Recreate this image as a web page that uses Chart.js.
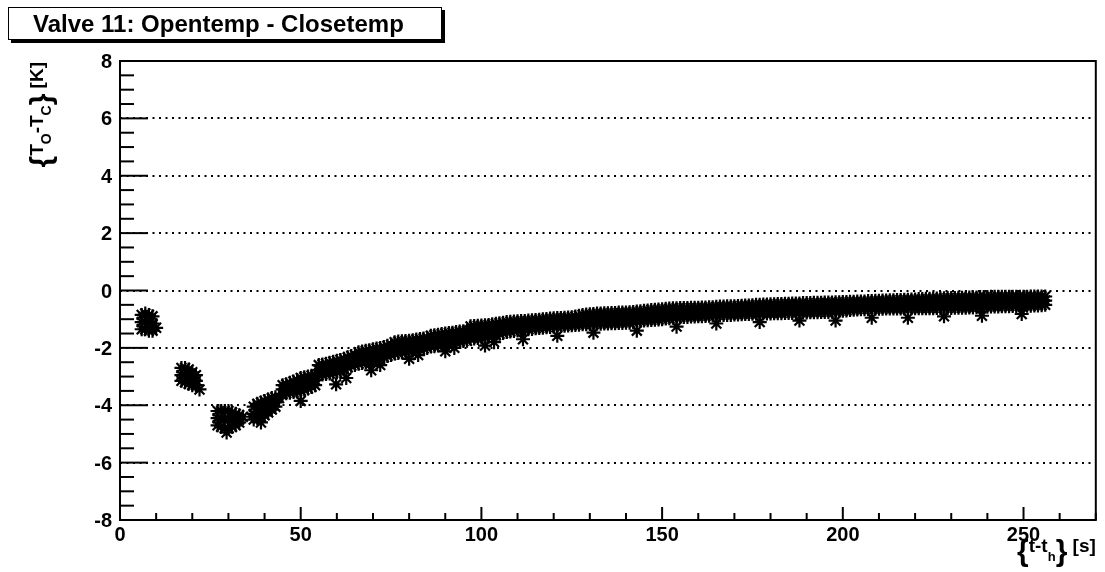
<!DOCTYPE html>
<html>
<head>
<meta charset="utf-8">
<script src="https://cdn.jsdelivr.net/npm/chart.js@4.4.1/dist/chart.umd.min.js"></script>
<style>
  html, body { margin: 0; padding: 0; background: #fff; }
  #wrap { width: 1105px; height: 572px; }
</style>
</head>
<body>
<div id="wrap"><canvas id="valveChart" width="1105" height="572"></canvas></div>
<script>
// time since heater switch [s]
const timeS = [
  6, 7, 8, 9,
  17, 18, 19, 20, 21,
  27, 28, 29, 30, 31, 32, 33,
  37, 38, 39, 40, 41, 42, 43,
  45, 46, 47, 48, 49, 50, 51, 52, 53, 54,
  55, 56, 57, 58, 59, 60, 61, 62, 63, 64,
  65, 66, 67, 68, 69, 70, 71, 72, 73, 74,
  75, 76, 77, 78, 79, 80, 81, 82, 83, 84,
  85, 86, 87, 88, 89, 90, 91, 92, 93, 94,
  95, 96, 97, 98, 99, 100, 101, 102, 103, 104,
  105, 106, 107, 108, 109, 110, 111, 112, 113, 114,
  115, 116, 117, 118, 119, 120, 121, 122, 123, 124,
  125, 126, 127, 128, 129, 130, 131, 132, 133, 134,
  135, 136, 137, 138, 139, 140, 141, 142, 143, 144,
  145, 146, 147, 148, 149, 150, 151, 152, 153, 154,
  155, 156, 157, 158, 159, 160, 161, 162, 163, 164,
  165, 166, 167, 168, 169, 170, 171, 172, 173, 174,
  175, 176, 177, 178, 179, 180, 181, 182, 183, 184,
  185, 186, 187, 188, 189, 190, 191, 192, 193, 194,
  195, 196, 197, 198, 199, 200, 201, 202, 203, 204,
  205, 206, 207, 208, 209, 210, 211, 212, 213, 214,
  215, 216, 217, 218, 219, 220, 221, 222, 223, 224,
  225, 226, 227, 228, 229, 230, 231, 232, 233, 234,
  235, 236, 237, 238, 239, 240, 241, 242, 243, 244,
  245, 246, 247, 248, 249, 250, 251, 252, 253, 254,
  255, 256
];

// upper edge of the band of readings, T_O - T_C [K]
const diffTop = [
  -0.85, -0.80, -0.85, -0.90,
  -2.70, -2.70, -2.75, -2.85, -2.95,
  -4.20, -4.20, -4.20, -4.20, -4.25, -4.30, -4.35,
  -4.05, -3.95, -3.90, -3.85, -3.80, -3.75, -3.72,
  -3.30, -3.27, -3.22, -3.17, -3.12, -3.05, -3.02, -3.00, -2.97, -2.95,
  -2.60, -2.58, -2.55, -2.52, -2.48, -2.45, -2.42, -2.38, -2.33, -2.28,
  -2.25, -2.15, -2.13, -2.10, -2.08, -2.05, -2.02, -2.00, -1.97, -1.93,
  -1.90, -1.80, -1.78, -1.77, -1.76, -1.75, -1.73, -1.71, -1.69, -1.67,
  -1.65, -1.58, -1.56, -1.54, -1.52, -1.50, -1.48, -1.47, -1.45, -1.43,
  -1.42, -1.40, -1.25, -1.24, -1.23, -1.22, -1.21, -1.20, -1.18, -1.16,
  -1.14, -1.12, -1.10, -1.09, -1.08, -1.07, -1.06, -1.06, -1.05, -1.04,
  -1.03, -1.02, -1.00, -0.99, -0.98, -0.97, -0.96, -0.96, -0.95, -0.94,
  -0.93, -0.91, -0.88, -0.85, -0.84, -0.83, -0.82, -0.80, -0.80, -0.79,
  -0.79, -0.78, -0.78, -0.77, -0.77, -0.77, -0.76, -0.75, -0.73, -0.72,
  -0.71, -0.70, -0.68, -0.67, -0.66, -0.65, -0.64, -0.63, -0.62, -0.62,
  -0.61, -0.61, -0.61, -0.60, -0.60, -0.60, -0.59, -0.59, -0.58, -0.58,
  -0.57, -0.56, -0.56, -0.55, -0.55, -0.55, -0.54, -0.53, -0.52, -0.52,
  -0.51, -0.50, -0.50, -0.49, -0.49, -0.48, -0.48, -0.47, -0.47, -0.46,
  -0.46, -0.45, -0.45, -0.45, -0.44, -0.44, -0.44, -0.43, -0.43, -0.43,
  -0.42, -0.42, -0.42, -0.41, -0.41, -0.40, -0.40, -0.39, -0.39, -0.38,
  -0.38, -0.38, -0.37, -0.37, -0.36, -0.36, -0.35, -0.35, -0.34, -0.34,
  -0.33, -0.33, -0.32, -0.32, -0.31, -0.31, -0.30, -0.30, -0.29, -0.29,
  -0.28, -0.28, -0.27, -0.27, -0.26, -0.26, -0.26, -0.25, -0.25, -0.25,
  -0.24, -0.24, -0.24, -0.23, -0.23, -0.23, -0.22, -0.22, -0.22, -0.22,
  -0.22, -0.22, -0.22, -0.22, -0.22, -0.22, -0.22, -0.21, -0.21, -0.21,
  -0.21, -0.21
];

// middle of the band
const diffMid = [
  -1.10, -1.10, -1.10, -1.15,
  -2.95, -2.95, -3.00, -3.05, -3.15,
  -4.45, -4.50, -4.50, -4.50, -4.50, -4.50, -4.50,
  -4.30, -4.25, -4.15, -4.10, -4.00, -3.95, -3.90,
  -3.45, -3.42, -3.39, -3.35, -3.32, -3.28, -3.24, -3.21, -3.17, -3.12,
  -2.78, -2.75, -2.73, -2.70, -2.67, -2.65, -2.61, -2.56, -2.50, -2.45,
  -2.42, -2.35, -2.33, -2.30, -2.28, -2.25, -2.22, -2.19, -2.15, -2.10,
  -2.07, -2.00, -1.98, -1.96, -1.95, -1.93, -1.91, -1.89, -1.86, -1.84,
  -1.82, -1.76, -1.75, -1.73, -1.71, -1.69, -1.67, -1.65, -1.62, -1.60,
  -1.59, -1.57, -1.46, -1.45, -1.44, -1.43, -1.42, -1.40, -1.38, -1.35,
  -1.32, -1.30, -1.27, -1.26, -1.24, -1.23, -1.21, -1.21, -1.20, -1.19,
  -1.17, -1.16, -1.15, -1.13, -1.12, -1.11, -1.10, -1.10, -1.09, -1.08,
  -1.07, -1.05, -1.03, -1.01, -1.01, -1.00, -0.99, -0.98, -0.98, -0.97,
  -0.97, -0.96, -0.96, -0.95, -0.95, -0.94, -0.94, -0.92, -0.90, -0.89,
  -0.88, -0.87, -0.85, -0.84, -0.83, -0.82, -0.81, -0.80, -0.78, -0.78,
  -0.77, -0.76, -0.76, -0.75, -0.75, -0.75, -0.74, -0.74, -0.73, -0.72,
  -0.71, -0.71, -0.70, -0.70, -0.70, -0.69, -0.69, -0.68, -0.67, -0.67,
  -0.66, -0.65, -0.65, -0.64, -0.64, -0.64, -0.63, -0.63, -0.63, -0.62,
  -0.62, -0.61, -0.61, -0.61, -0.60, -0.60, -0.60, -0.59, -0.59, -0.59,
  -0.58, -0.58, -0.58, -0.57, -0.56, -0.55, -0.55, -0.53, -0.53, -0.52,
  -0.51, -0.51, -0.51, -0.50, -0.50, -0.50, -0.49, -0.49, -0.48, -0.48,
  -0.48, -0.48, -0.47, -0.47, -0.46, -0.46, -0.46, -0.46, -0.45, -0.45,
  -0.45, -0.44, -0.44, -0.44, -0.43, -0.43, -0.43, -0.42, -0.42, -0.42,
  -0.41, -0.41, -0.41, -0.40, -0.40, -0.40, -0.39, -0.39, -0.39, -0.38,
  -0.38, -0.38, -0.38, -0.38, -0.38, -0.37, -0.37, -0.37, -0.36, -0.36,
  -0.36, -0.35
];

// lower edge of the band
const diffLow = [
  -1.35, -1.35, -1.40, -1.40,
  -3.15, -3.20, -3.25, -3.30, -3.30,
  -4.70, -4.75, -4.80, -4.80, -4.75, -4.70, -4.60,
  -4.50, -4.45, -4.40, -4.35, -4.25, -4.15, -4.05,
  -3.60, -3.58, -3.56, -3.54, -3.52, -3.50, -3.46, -3.42, -3.36, -3.30,
  -2.95, -2.93, -2.91, -2.89, -2.87, -2.85, -2.80, -2.74, -2.68, -2.62,
  -2.60, -2.55, -2.53, -2.50, -2.48, -2.45, -2.42, -2.38, -2.33, -2.28,
  -2.25, -2.20, -2.18, -2.16, -2.14, -2.12, -2.10, -2.07, -2.04, -2.02,
  -2.00, -1.95, -1.94, -1.92, -1.90, -1.88, -1.86, -1.83, -1.80, -1.78,
  -1.76, -1.75, -1.68, -1.67, -1.66, -1.65, -1.63, -1.61, -1.58, -1.55,
  -1.51, -1.48, -1.45, -1.43, -1.41, -1.39, -1.37, -1.36, -1.35, -1.34,
  -1.32, -1.31, -1.30, -1.28, -1.27, -1.26, -1.25, -1.24, -1.23, -1.22,
  -1.21, -1.20, -1.19, -1.18, -1.18, -1.17, -1.17, -1.16, -1.16, -1.15,
  -1.15, -1.14, -1.14, -1.13, -1.13, -1.12, -1.12, -1.10, -1.08, -1.06,
  -1.05, -1.04, -1.03, -1.02, -1.01, -1.00, -0.98, -0.97, -0.95, -0.94,
  -0.93, -0.92, -0.92, -0.91, -0.91, -0.90, -0.90, -0.89, -0.88, -0.87,
  -0.86, -0.86, -0.85, -0.85, -0.85, -0.84, -0.84, -0.83, -0.82, -0.82,
  -0.81, -0.81, -0.80, -0.80, -0.80, -0.80, -0.79, -0.79, -0.79, -0.78,
  -0.78, -0.78, -0.78, -0.77, -0.77, -0.77, -0.76, -0.76, -0.76, -0.75,
  -0.75, -0.75, -0.74, -0.73, -0.72, -0.71, -0.70, -0.68, -0.67, -0.66,
  -0.65, -0.65, -0.65, -0.64, -0.64, -0.64, -0.64, -0.63, -0.63, -0.63,
  -0.63, -0.63, -0.63, -0.62, -0.62, -0.62, -0.62, -0.62, -0.62, -0.62,
  -0.62, -0.61, -0.61, -0.61, -0.61, -0.61, -0.60, -0.60, -0.60, -0.60,
  -0.59, -0.59, -0.58, -0.58, -0.57, -0.57, -0.56, -0.56, -0.56, -0.55,
  -0.55, -0.55, -0.54, -0.54, -0.54, -0.53, -0.53, -0.53, -0.52, -0.52,
  -0.51, -0.50
];

// isolated low readings below the band
const outlierT = [10, 22, 29.5, 34, 39, 44, 50, 59.8, 62.6, 69.5, 72, 80, 82.5, 90, 92.5,
  101, 103.5, 111.5, 121, 131, 143, 154, 165, 177, 188, 198, 208, 218, 228, 238.5, 249.5];
const outlierDiff = [-1.30, -3.45, -4.95, -4.40, -4.60, -3.75, -3.85, -3.27, -3.05, -2.78, -2.60,
  -2.38, -2.25, -2.12, -2.00, -1.92, -1.80, -1.70, -1.58, -1.47, -1.40, -1.26, -1.15, -1.10,
  -1.05, -1.05, -0.95, -0.95, -0.90, -0.88, -0.82];

const gridLevels = [-6, -4, -2, 0, 2, 4, 6];

const FONT = '"Liberation Sans", Arial, Helvetica, sans-serif';

const points = [];
timeS.forEach((t, i) => {
  points.push({ x: t, y: diffTop[i] });
  points.push({ x: t, y: diffMid[i] });
  points.push({ x: t, y: diffLow[i] });
});
outlierT.forEach((t, i) => points.push({ x: t, y: outlierDiff[i] }));

// draws a line of text with sub-scripts, right aligned at x
function drawRich(ctx, parts, x, y) {
  let w = 0;
  parts.forEach(p => { ctx.font = p.font; p.w = ctx.measureText(p.text).width; w += p.w; });
  let cx = x - w;
  ctx.textAlign = 'left';
  ctx.textBaseline = 'alphabetic';
  parts.forEach(p => {
    ctx.font = p.font;
    ctx.fillText(p.text, cx, y + (p.dy || 0));
    cx += p.w;
  });
}

const rootStyle = {
  id: 'rootStyle',
  beforeDatasetsDraw(chart) {
    const { ctx, chartArea: a, scales } = chart;
    ctx.save();
    ctx.strokeStyle = '#000';
    ctx.lineWidth = 2;
    ctx.setLineDash([2, 4.5]);
    gridLevels.forEach(v => {
      const py = Math.round(scales.y.getPixelForValue(v));
      ctx.beginPath();
      ctx.moveTo(a.left, py);
      ctx.lineTo(a.right, py);
      ctx.stroke();
    });
    ctx.restore();
  },
  afterDraw(chart) {
    const { ctx, chartArea: a, scales } = chart;
    ctx.save();
    ctx.fillStyle = '#000';
    ctx.strokeStyle = '#000';

    // frame
    ctx.lineWidth = 2;
    ctx.strokeRect(a.left, a.top, a.right - a.left, a.bottom - a.top);

    // y ticks, inside the frame
    for (let v = -8; v <= 8; v += 0.5) {
      const py = scales.y.getPixelForValue(v);
      const len = v % 2 === 0 ? 28 : 14;
      ctx.beginPath();
      ctx.moveTo(a.left, py);
      ctx.lineTo(a.left + len, py);
      ctx.stroke();
    }
    // x ticks, inside the frame
    for (let v = 0; v <= 270; v += 10) {
      const px = scales.x.getPixelForValue(v);
      const len = v % 50 === 0 ? 13 : 7;
      ctx.beginPath();
      ctx.moveTo(px, a.bottom);
      ctx.lineTo(px, a.bottom - len);
      ctx.stroke();
    }

    // title box with shadow
    ctx.fillRect(11, 10, 434, 33);
    ctx.fillStyle = '#fff';
    ctx.fillRect(8, 7, 434, 33);
    ctx.lineWidth = 1;
    ctx.strokeRect(8.5, 7.5, 433, 32);
    ctx.fillStyle = '#000';
    ctx.font = `bold 24px ${FONT}`;
    ctx.textAlign = 'left';
    ctx.textBaseline = 'alphabetic';
    ctx.fillText('Valve 11: Opentemp - Closetemp', 33, 32);

    const main = `bold 19px ${FONT}`;
    const sub = `bold 14px ${FONT}`;
    const brace = `bold 30px ${FONT}`;

    // x axis title
    drawRich(ctx, [
      { text: '{', font: brace, dy: 9 },
      { text: 't-t', font: main },
      { text: 'h', font: `bold 13px ${FONT}`, dy: 9 },
      { text: '}', font: brace, dy: 9 },
      { text: ' [s]', font: main }
    ], a.right, 552);

    // y axis title, rotated
    ctx.translate(43, 62);
    ctx.rotate(-Math.PI / 2);
    drawRich(ctx, [
      { text: '{', font: brace, dy: 8 },
      { text: 'T', font: main },
      { text: 'O', font: sub, dy: 8 },
      { text: '-T', font: main },
      { text: 'C', font: sub, dy: 8 },
      { text: '}', font: brace, dy: 8 },
      { text: ' [K]', font: main }
    ], 0, 0);
    ctx.restore();
  }
};

const ctx = document.getElementById('valveChart').getContext('2d');
const valveChart = new Chart(ctx, {
  type: 'scatter',
  data: {
    datasets: [{
      label: 'Opentemp - Closetemp',
      data: points,
      pointStyle: 'star',
      pointRadius: 7,
      pointBorderWidth: 2.2,
      borderColor: '#000',
      backgroundColor: '#000',
      showLine: false
    }]
  },
  options: {
    responsive: false,
    animation: false,
    layout: { padding: { top: 61, right: 5, left: 0, bottom: 0 } },
    plugins: {
      legend: { display: false },
      tooltip: { enabled: false },
      title: { display: false }
    },
    scales: {
      x: {
        type: 'linear',
        min: 0,
        max: 270,
        afterFit: scale => { scale.height = 52; },
        grid: { display: false, drawTicks: false },
        border: { display: false },
        ticks: {
          stepSize: 50,
          includeBounds: false,
          maxRotation: 0,
          autoSkip: false,
          padding: 3,
          color: '#000',
          font: { family: FONT, size: 20, weight: 'bold' }
        }
      },
      y: {
        type: 'linear',
        min: -8,
        max: 8,
        afterFit: scale => { scale.width = 120; },
        grid: { display: false, drawTicks: false },
        border: { display: false },
        ticks: {
          stepSize: 2,
          padding: 8,
          labelOffset: 1.5,
          color: '#000',
          font: { family: FONT, size: 20, weight: 'bold' }
        }
      }
    }
  },
  plugins: [rootStyle]
});
</script>
</body>
</html>
